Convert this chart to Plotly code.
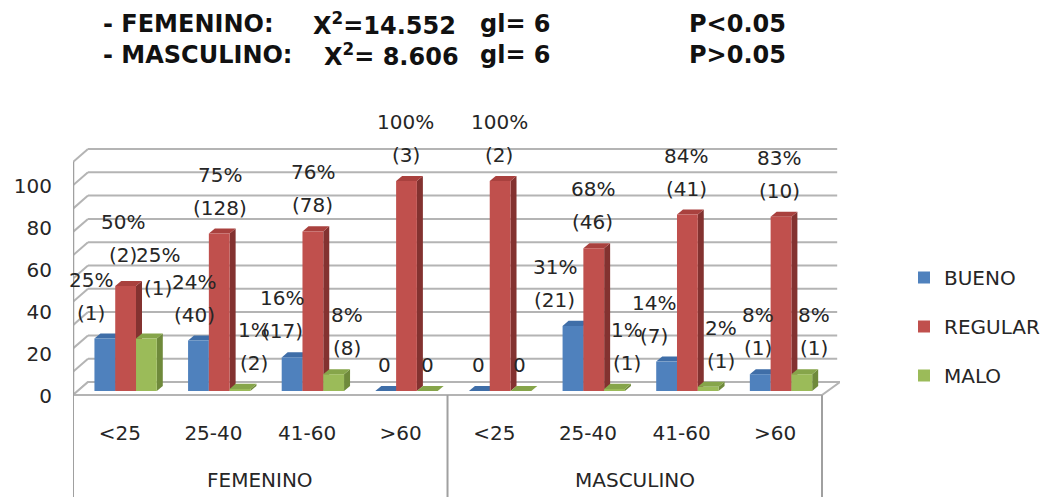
import plotly.graph_objects as go

# ---------------------------------------------------------------- data
sexes = ["FEMENINO", "MASCULINO"]
age_groups = ["<25", "25-40", "41-60", ">60"]
tick_labels = age_groups * len(sexes)

bueno_pct = [25, 24, 16, 0, 0, 31, 14, 8]
bueno_n = [1, 40, 17, 0, 0, 21, 7, 1]
regular_pct = [50, 75, 76, 100, 100, 68, 84, 83]
regular_n = [2, 128, 78, 3, 2, 46, 41, 10]
malo_pct = [25, 1, 8, 0, 0, 1, 2, 8]
malo_n = [1, 2, 8, 0, 0, 1, 1, 1]

y_ticks = [0, 20, 40, 60, 80, 100]
wall_grid = list(range(0, 101, 10))

stats_lines = [
    ["- FEMENINO:", "X<sup>2</sup>=14.552", "gl= 6", "P<0.05"],
    ["- MASCULINO:", "X<sup>2</sup>= 8.606", "gl= 6", "P>0.05"],
]

# ---------------------------------------------------------------- style
W, H = 1047, 497
M_L, M_R, M_T, M_B = 73, 207, 147, 98
PLOT_W, PLOT_H = W - M_L - M_R, H - M_T - M_B

FONT = "'DejaVu Sans', 'Liberation Sans', sans-serif"
TXT = "#262626"
GRID = "#b4b4b4"
EDGE = "#a0a0a0"
LABEL_SIZE = 20

N_CAT = len(tick_labels)
X_RANGE = [-0.5, N_CAT - 0.5 + 0.192]
Y_RANGE = [-3.81, 116.19]        # front scale of the columns
Y3_RANGE = [-7.296, 100.86]      # back wall

BAR_W = 0.222
DEPTH_X, DEPTH_Y = 0.064, 2.4    # column depth (x units, y units)
WALL_DX_L, WALL_DX_R = 0.16, 0.192
WALL_DY = 5.6                    # wall/floor depth in back-wall units

series = [
    dict(name="BUENO", pct=bueno_pct, n=bueno_n, off=-0.271,
         front="#4F81BD", side="#38609A", top="#3F6EA8",
         dx=[-14, -4, -10, -1, -1, -18, -13, -2],
         dy=[26, 26, 26, 26, 26, 26, 26, 26]),
    dict(name="REGULAR", pct=regular_pct, n=regular_n, off=-0.049,
         front="#C0504D", side="#833230", top="#A9413E",
         dx=[-3, 1, 0, -1, -1, -1, -1, -2],
         dy=[31, 26, 26, 26, 26, 26, 26, 26]),
    dict(name="MALO", pct=malo_pct, n=malo_n, off=0.173,
         front="#9BBB59", side="#6F8A3B", top="#86A54A",
         dx=[12, 14, 13, 0, -1, 12, 13, 12],
         dy=[51, 26, 26, 26, 26, 26, 26, 26]),
]

fig = go.Figure()

# front faces of the columns
for s in series:
    fig.add_trace(go.Bar(
        x=list(range(N_CAT)), y=s["pct"], width=BAR_W, offset=s["off"],
        name=s["name"], legendgroup=s["name"],
        marker=dict(color=s["front"], line=dict(width=0)),
        hoverinfo="skip",
    ))

shapes = []

# back wall gridlines and their oblique continuation on the left wall
x_back_l = X_RANGE[0] + WALL_DX_L
for v in wall_grid:
    shapes.append(dict(type="line", xref="x", yref="y3", layer="below",
                       x0=x_back_l, x1=X_RANGE[1] - 0.03, y0=v, y1=v,
                       line=dict(color=GRID, width=2)))
    shapes.append(dict(type="line", xref="x", yref="y3", layer="below",
                       x0=X_RANGE[0], x1=x_back_l, y0=v - WALL_DY, y1=v,
                       line=dict(color=GRID, width=2)))

# floor
x_front_r = N_CAT - 0.5
shapes.append(dict(
    type="path", xref="x", yref="y3", layer="below",
    path=(f"M{X_RANGE[0]},{-WALL_DY} L{x_front_r},{-WALL_DY} "
          f"L{x_front_r + WALL_DX_R},0 L{x_back_l},0 Z"),
    fillcolor="white", line=dict(color=GRID, width=2)))

# left wall front edge
shapes.append(dict(type="line", xref="x", yref="y3", layer="below",
                   x0=X_RANGE[0], x1=X_RANGE[0],
                   y0=-WALL_DY, y1=wall_grid[-1] - WALL_DY,
                   line=dict(color=EDGE, width=2.5)))

# side faces first, then top faces, so neighbouring columns overlap correctly
for face in ("side", "top"):
    for s in series:
        for i, h in enumerate(s["pct"]):
            x0 = i + s["off"]
            x1 = x0 + BAR_W
            if face == "side":
                path = (f"M{x1},0 L{x1 + DEPTH_X},{DEPTH_Y} "
                        f"L{x1 + DEPTH_X},{h + DEPTH_Y} L{x1},{h} Z")
            else:
                path = (f"M{x0},{h} L{x1},{h} L{x1 + DEPTH_X},{h + DEPTH_Y} "
                        f"L{x0 + DEPTH_X},{h + DEPTH_Y} Z")
            shapes.append(dict(type="path", xref="x", yref="y",
                               layer="between", path=path,
                               fillcolor=s[face], line=dict(width=0)))

# category box below the floor
floor_front_paper = (-WALL_DY - Y3_RANGE[0]) / (Y3_RANGE[1] - Y3_RANGE[0])
for xb in (-0.5, len(age_groups) - 0.5, N_CAT - 0.5):
    shapes.append(dict(type="line", xref="x", yref="paper",
                       x0=xb, x1=xb, y0=floor_front_paper, y1=-M_B / PLOT_H,
                       line=dict(color=EDGE, width=2)))

annotations = []

# value labels: percentage and count above each column
for s in series:
    for i, (p, n) in enumerate(zip(s["pct"], s["n"])):
        xc = i + s["off"] + BAR_W / 2
        lines = [f"{p}%", f"({n})"] if p > 0 else ["0"]
        for k, txt in enumerate(reversed(lines)):
            annotations.append(dict(
                x=xc, y=p, xref="x", yref="y", text=txt, showarrow=False,
                xanchor="center", yanchor="middle",
                xshift=s["dx"][i], yshift=s["dy"][i] + 33 * k,
                font=dict(family=FONT, size=LABEL_SIZE, color=TXT)))

# sex group labels under the age groups
group_label_y = -(480 - (H - M_B)) / PLOT_H
for g, name in enumerate(sexes):
    xc = g * len(age_groups) + (len(age_groups) - 1) / 2
    annotations.append(dict(
        x=xc, y=group_label_y, xref="x", yref="paper", text=name,
        showarrow=False, xanchor="center", yanchor="middle",
        font=dict(family=FONT, size=LABEL_SIZE, color=TXT)))

# chi-square summary at the top
col_x = [[101, 311, 478, 687], [101, 322, 478, 687]]
row_y = [24, 55]
for r, row in enumerate(stats_lines):
    for c, txt in enumerate(row):
        annotations.append(dict(
            x=(col_x[r][c] - M_L) / PLOT_W, y=(H - M_B - row_y[r]) / PLOT_H,
            xref="paper", yref="paper", text=f"<b>{txt}</b>", showarrow=False,
            xanchor="left", yanchor="middle",
            font=dict(family=FONT, size=24, color="#111111")))

fig.update_layout(
    width=W, height=H,
    margin=dict(l=M_L, r=M_R, t=M_T, b=M_B, autoexpand=False),
    paper_bgcolor="white", plot_bgcolor="rgba(0,0,0,0)",
    barmode="overlay",
    font=dict(family=FONT, size=LABEL_SIZE, color=TXT),
    shapes=shapes, annotations=annotations,
    showlegend=True,
    legend=dict(xref="container", yref="container",
                x=904 / W, y=1 - 258 / H,
                xanchor="left", yanchor="top", tracegroupgap=20,
                font=dict(family=FONT, size=LABEL_SIZE, color=TXT),
                bgcolor="rgba(0,0,0,0)"),
    xaxis=dict(range=X_RANGE, tickmode="array", tickvals=list(range(N_CAT)),
               ticktext=tick_labels, showgrid=False, zeroline=False,
               showline=False, ticks="", ticklabelstandoff=20,
               tickfont=dict(family=FONT, size=LABEL_SIZE, color=TXT),
               fixedrange=True),
    yaxis=dict(range=Y_RANGE, tickmode="array", tickvals=y_ticks,
               showgrid=False, zeroline=False, showline=False, ticks="",
               ticklabelstandoff=20, ticklabelshift=5,
               tickfont=dict(family=FONT, size=LABEL_SIZE, color=TXT),
               fixedrange=True),
    yaxis3=dict(range=Y3_RANGE, overlaying="y", anchor="x", visible=False,
                fixedrange=True),
)

fig.write_html("out.html")
